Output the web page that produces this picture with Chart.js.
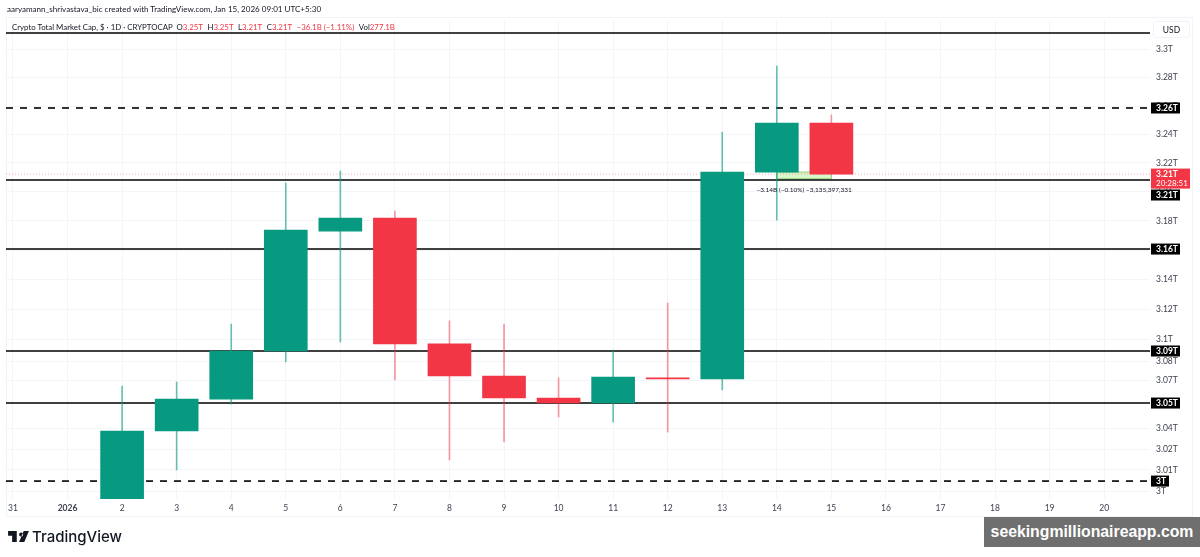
<!DOCTYPE html>
<html>
<head>
<meta charset="utf-8">
<script src="https://cdn.jsdelivr.net/npm/chart.js@4"></script>
<style>
html, body { margin: 0; padding: 0; background: #fff; width: 1200px; height: 557px; overflow: hidden; font-family: "Lato", "Open Sans", sans-serif; color: #131722; }
#frame { position: absolute; left: 6px; top: 17px; width: 1187px; height: 500px; border: 1px solid #f0f3fa; box-sizing: border-box; }
#chart { position: absolute; left: 0; top: 0; }
.txt { position: absolute; white-space: nowrap; }
#byline { left: 7px; top: 3px; font-size: 8.05px; line-height: 12px; }
#legend { left: 12px; top: 21px; font-size: 7.85px; line-height: 12px; }
#legend b { font-weight: normal; color: #f23645; margin-right: 4.5px; }
#usd { left: 1153px; top: 21px; width: 37px; height: 17px; line-height: 17px; text-align: center; font-size: 8.5px; border: 1px solid #f0f3fa; border-radius: 3px; box-sizing: border-box; }
#tvlogo { position: absolute; left: 8px; top: 531px; }
#tvname { left: 32px; top: 526px; font-family: "Inter", sans-serif; font-size: 15px; font-weight: 500; line-height: 22px; }
#stamp { left: 984px; top: 517px; width: 216px; height: 30px; background: #6f6f6f; color: #fff; font-family: "Liberation Sans", sans-serif; font-weight: bold; font-size: 15.8px; line-height: 30px; text-align: center; }
</style>
</head>
<body>
<div id="frame"></div>
<canvas id="chart" width="1200" height="557"></canvas>
<div class="txt" id="byline">aaryamann_shrivastava_bic created with TradingView.com, Jan 15, 2026 09:01 UTC+5:30</div>
<div class="txt" id="legend">Crypto Total Market Cap, $ · 1D · CRYPTOCAP&nbsp;&nbsp;O<b>3.25T</b>H<b>3.25T</b>L<b>3.21T</b>C<b>3.21T</b><b>−36.1B (−1.11%)</b>Vol<b>277.1B</b></div>
<div class="txt" id="usd">USD</div>
<svg id="tvlogo" width="21" height="11" viewBox="0 0 36 19"><path fill="#131722" d="M0 0h15v19H7V8H0zM19 6a3.5 3.5 0 1 0 0-.1zM27 0h9l-8 19h-9z"/></svg>
<div class="txt" id="tvname">TradingView</div>
<div class="txt" id="stamp">seekingmillionaireapp.com</div>

<script>
// --- data ---
const dateLabels = ['31', '2026', '2', '3', '4', '5', '6', '7', '8', '9', '10', '11', '12', '13', '14', '15', '16', '17', '18', '19', '20'];

// candles, x is the position in dateLabels
const candleX = [2, 3, 4, 5, 6, 7, 8, 9, 10, 11, 12, 13, 14, 15];
const opens   = [2.9949, 3.0391, 3.0601, 3.0920, 3.1730, 3.1819, 3.0967, 3.0754, 3.0608, 3.0575, 3.0741, 3.0734, 3.2136, 3.2478];
const highs   = [3.0687, 3.0714, 3.1100, 3.2060, 3.2143, 3.1867, 3.1121, 3.1100, 3.0741, 3.0926, 3.1241, 3.2415, 3.2879, 3.2534];
const lows    = [2.9949, 3.0137, 3.0568, 3.0847, 3.0980, 3.0727, 3.0202, 3.0319, 3.0483, 3.0450, 3.0384, 3.0661, 3.1805, 3.2122];
const closes  = [3.0391, 3.0601, 3.0920, 3.1737, 3.1819, 3.0967, 3.0754, 3.0608, 3.0575, 3.0747, 3.0734, 3.2136, 3.2478, 3.2122];

// the price axis is logarithmic, labels are rounded by TradingView
const tickValues = [3.3, 3.28, 3.2595, 3.24, 3.22, 3.2, 3.18, 3.16, 3.14, 3.12, 3.1, 3.085, 3.0727, 3.0575, 3.041, 3.027, 3.0137, 3.0];
const tickLabels = ['3.3T', '3.28T', '3.26T', '3.24T', '3.22T', '3.2T', '3.18T', '3.16T', '3.14T', '3.12T', '3.1T', '3.08T', '3.07T', '3.05T', '3.04T', '3.02T', '3.01T', '3T'];

// drawn support / resistance lines
const levelValues = [3.3114, 3.2583, 3.2081, 3.1607, 3.0920, 3.0575, 3.0065];
const levelDashed = [false, true, false, false, false, false, true];
const levelTags   = [null, '3.26T', '3.21T', '3.16T', '3.09T', '3.05T', '3T'];

const lastPrice = 3.2122;
const lastPriceLabel = '3.21T';
const countdownLabel = '20:28:51';

// measure tool between candle 14 and 15
const measureX = [14, 15];
const measureY = [3.2136, 3.2090];
const measureLabel = '−3.14B (−0.10%) −3,135,397,331';

// --- styling ---
const GREEN = '#089981';
const RED = '#f23645';
const GREEN_WICK = 'rgba(8,153,129,0.6)';
const RED_WICK = 'rgba(242,54,69,0.5)';
const FONT = 'Lato, "Open Sans", sans-serif';
const X_MIN = -0.128, X_MAX = 20.84;
const Y_MIN = 2.9949, Y_MAX = 3.3207;
const TAG_LEFT = 1151;

const isUp = candleX.map((_, i) => closes[i] >= opens[i]);

const datasets = [
    {
        // bodies
        type: 'bar', order: 1, barThickness: 43, grouped: false,
        data: candleX.map((x, i) => ({ x: x, y: [opens[i], closes[i]] })),
        backgroundColor: isUp.map(up => up ? GREEN : RED), borderWidth: 0
    },
    {
        // wicks
        type: 'bar', order: 2, barThickness: 1, grouped: false,
        data: candleX.map((x, i) => ({ x: x, y: [lows[i], highs[i]] })),
        backgroundColor: isUp.map(up => up ? GREEN_WICK : RED_WICK), borderWidth: 0
    },
    {
        // last price dotted line
        type: 'line', order: 4,
        data: [{ x: X_MIN, y: lastPrice }, { x: X_MAX, y: lastPrice }],
        borderColor: 'rgba(242,54,69,0.4)', borderWidth: 1, borderDash: [1, 2], pointRadius: 0
    }
];
levelValues.forEach((v, i) => {
    datasets.push({
        type: 'line', order: 3,
        data: [{ x: X_MIN, y: v }, { x: X_MAX, y: v }],
        borderColor: '#000', borderWidth: 1.6,
        borderDash: levelDashed[i] ? [7, 7] : [],
        pointRadius: 0
    });
});

function drawTag(ctx, left, top, w, h, bg) {
    ctx.fillStyle = bg;
    ctx.fillRect(left, top, w, h);
}

// measure box, drawn under the datasets
const measurePlugin = {
    id: 'measure',
    beforeDatasetsDraw(chart) {
        const { ctx, scales: { x, y } } = chart;
        const x0 = x.getPixelForValue(measureX[0]), x1 = x.getPixelForValue(measureX[1]);
        const y0 = y.getPixelForValue(measureY[0]), y1 = y.getPixelForValue(measureY[1]);
        ctx.save();
        ctx.fillStyle = 'rgba(150,230,110,0.35)';
        ctx.fillRect(x0, y0, x1 - x0, y1 - y0);
        ctx.strokeStyle = 'rgba(120,200,90,0.8)';
        ctx.lineWidth = 1;
        ctx.strokeRect(x0, y0, x1 - x0, y1 - y0);
        ctx.restore();
    },
    afterDatasetsDraw(chart) {
        const { ctx, scales: { x, y } } = chart;
        ctx.save();
        ctx.fillStyle = '#131722';
        ctx.font = '6.5px ' + FONT;
        ctx.textAlign = 'center';
        ctx.textBaseline = 'middle';
        ctx.fillText(measureLabel, (x.getPixelForValue(measureX[0]) + x.getPixelForValue(measureX[1])) / 2, y.getPixelForValue(measureY[1]) + 11);
        ctx.restore();
    }
};

// black level tags and the red last price tag on the price axis
const tagsPlugin = {
    id: 'tags',
    afterDraw(chart) {
        const { ctx, scales: { y } } = chart;
        ctx.save();
        ctx.font = 'bold 8.5px ' + FONT;
        ctx.textAlign = 'left';
        ctx.textBaseline = 'middle';
        levelTags.forEach((label, i) => {
            if (!label) return;
            // the 3.21T tag is pushed down by the last price tag
            const cy = y.getPixelForValue(levelValues[i]) + (label === '3.21T' ? 15 : 0);
            const w = label === '3T' ? 18 : 29;
            drawTag(ctx, TAG_LEFT, cy - 5.5, w, 11, '#000');
            ctx.fillStyle = '#fff';
            ctx.fillText(label, TAG_LEFT + 5, cy + 0.5);
        });
        const py = y.getPixelForValue(lastPrice);
        drawTag(ctx, TAG_LEFT, py - 5.5, 39, 20, RED);
        ctx.fillStyle = '#fff';
        ctx.fillText(lastPriceLabel, TAG_LEFT + 5, py + 0.5);
        ctx.font = '8px ' + FONT;
        ctx.fillText(countdownLabel, TAG_LEFT + 5, py + 9.5);
        ctx.restore();
    }
};

Chart.defaults.font.family = FONT;

new Chart(document.getElementById('chart'), {
    data: { datasets: datasets },
    plugins: [measurePlugin, tagsPlugin],
    options: {
        responsive: false,
        animation: false,
        layout: { padding: { left: 6, right: 7, top: 20, bottom: 40 } },
        plugins: { legend: { display: false }, tooltip: { enabled: false } },
        scales: {
            x: {
                type: 'linear', min: X_MIN, max: X_MAX, offset: false,
                afterBuildTicks: axis => { axis.ticks = dateLabels.map((_, i) => ({ value: i })); },
                afterFit: axis => { axis.height = 18; },
                grid: { color: '#f4f5f8', tickLength: 0, offset: false },
                border: { display: false },
                ticks: {
                    autoSkip: false, maxRotation: 0, padding: 4, color: '#3a3f4c',
                    font: ctx => ({ size: 8.5, weight: dateLabels[ctx.index] === '2026' ? 'bold' : 'normal' }),
                    callback: v => dateLabels[v]
                }
            },
            y: {
                type: 'logarithmic', position: 'right', min: Y_MIN, max: Y_MAX,
                afterBuildTicks: axis => { axis.ticks = tickValues.map(v => ({ value: v })); },
                afterFit: axis => { axis.width = 43; },
                grid: { color: '#f4f5f8', tickLength: 0 },
                border: { display: false },
                ticks: {
                    autoSkip: false, padding: 6, color: '#3a3f4c', align: 'center', crossAlign: 'near',
                    font: { size: 8.5 },
                    callback: (v, i) => tickLabels[i]
                }
            }
        }
    }
});
</script>
</body>
</html>
